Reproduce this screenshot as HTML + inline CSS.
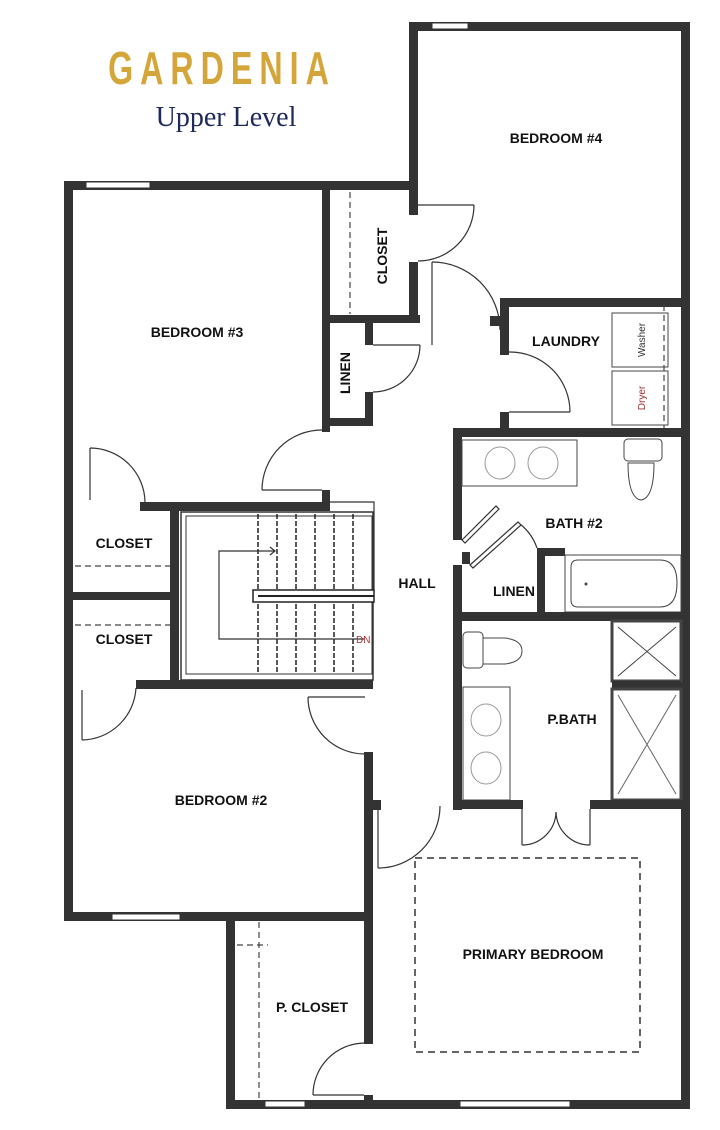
<!DOCTYPE html>
<html><head><meta charset="utf-8"><style>
html,body{margin:0;padding:0;background:#fff;width:720px;height:1130px;overflow:hidden}
svg{display:block}
.w{fill:#333}
.t{font-family:"Liberation Sans",sans-serif;font-weight:bold;font-size:14px;fill:#111}
.l{fill:none;stroke:#333;stroke-width:1.2}
.d{fill:none;stroke:#444;stroke-width:1.2;stroke-dasharray:6 4}
.win{fill:#fff;stroke:#333;stroke-width:1}
</style></head><body>
<svg width="720" height="1130" viewBox="0 0 720 1130">
<text x="222" y="84" text-anchor="middle" font-family="Liberation Sans Narrow,Liberation Sans,sans-serif" font-weight="bold" font-size="46" fill="#d4a63a" letter-spacing="10" transform="translate(222 0) scale(0.7 1) translate(-222 0)">GARDENIA</text>
<text x="226" y="126" text-anchor="middle" font-family="Liberation Serif,serif" font-size="28" fill="#1e2a5c">Upper Level</text>

<!-- exterior walls -->
<rect class="w" x="409" y="22" width="281" height="9"/>
<rect class="win" x="432" y="23" width="36" height="6"/>
<rect class="w" x="409" y="22" width="9" height="193"/>
<rect class="w" x="409" y="262" width="9" height="60"/>
<rect class="w" x="681" y="22" width="9" height="1087"/>
<rect class="w" x="64" y="181" width="353" height="9"/>
<rect class="win" x="86" y="182" width="64" height="6"/>
<rect class="w" x="64" y="181" width="9" height="740"/>
<rect class="w" x="64" y="912" width="309" height="9"/>
<rect class="win" x="112" y="914" width="68" height="6"/>
<rect class="w" x="226" y="912" width="9" height="197"/>
<rect class="w" x="226" y="1100" width="464" height="9"/>
<rect class="win" x="265" y="1101" width="40" height="6"/>
<rect class="win" x="460" y="1101" width="110" height="6"/>

<!-- closet / linen near bedroom 3 -->
<rect class="w" x="322" y="190" width="8" height="242"/>
<rect class="w" x="322" y="490" width="8" height="20"/>
<line class="d" x1="350" y1="192" x2="350" y2="314"/>
<rect class="w" x="322" y="315" width="98" height="8"/>
<rect class="w" x="365" y="323" width="8" height="22"/>
<rect class="w" x="365" y="392" width="8" height="34"/>
<rect class="w" x="322" y="418" width="51" height="8"/>
<path class="l" d="M373 345 H420 M420 345 A47 47 0 0 1 373 392"/>
<path class="l" d="M262 490 H322 M262 490 A60 60 0 0 1 322 430"/>
<path class="l" d="M418 205 H474 M474 205 A56 56 0 0 1 418 261"/>
<path class="l" d="M432 262 V345 M432 262 A68 68 0 0 1 500 330"/>

<!-- bedroom3 bottom / closets -->
<rect class="w" x="64" y="500" width="9" height="10"/>
<rect class="w" x="140" y="502" width="190" height="9"/>
<path class="l" d="M90 448 V500 M90 448 A55 55 0 0 1 145 502"/>
<rect class="w" x="170" y="510" width="9" height="172"/>
<rect class="w" x="73" y="592" width="104" height="8"/>
<line class="d" x1="75" y1="566" x2="170" y2="566"/>
<line class="d" x1="75" y1="625" x2="170" y2="625"/>
<rect class="w" x="136" y="680" width="237" height="9"/>
<path class="l" d="M82 690 V740 M82 740 A55 55 0 0 0 136 688"/>

<!-- stairs -->
<rect x="181" y="512" width="192" height="168" fill="none" stroke="#333" stroke-width="1.5"/>
<rect x="186" y="516" width="186" height="158" fill="none" stroke="#333" stroke-width="1"/>
<path class="l" d="M330 502 H374 V592"/>
<g stroke="#222" stroke-width="1.5" stroke-dasharray="5 2">
<line x1="258" y1="514" x2="258" y2="592"/><line x1="277" y1="514" x2="277" y2="592"/><line x1="296" y1="514" x2="296" y2="592"/><line x1="315" y1="514" x2="315" y2="592"/><line x1="334" y1="514" x2="334" y2="592"/><line x1="353" y1="514" x2="353" y2="592"/>
<line x1="258" y1="604" x2="258" y2="674"/><line x1="277" y1="604" x2="277" y2="674"/><line x1="296" y1="604" x2="296" y2="674"/><line x1="315" y1="604" x2="315" y2="674"/><line x1="334" y1="604" x2="334" y2="674"/><line x1="353" y1="604" x2="353" y2="674"/>
</g>
<rect x="253" y="590" width="121" height="12" fill="#fff" stroke="#222" stroke-width="1.5"/>
<line x1="258" y1="596" x2="374" y2="596" stroke="#222" stroke-width="2"/>
<path class="l" d="M364 639 H219 V551 H275 M270 547 L275 551 L270 555"/>
<text x="356" y="643" font-family="Liberation Sans,sans-serif" font-size="10" fill="#a33">DN</text>

<!-- bedroom2 door / hall right -->
<path class="l" d="M308 697 H365 M308 697 A57 57 0 0 0 365 754"/>
<rect class="w" x="364" y="752" width="9" height="292"/>
<path class="l" d="M313 1095 H364 M313 1095 A52 52 0 0 1 364 1043"/>
<line class="d" x1="259" y1="922" x2="259" y2="1098"/>
<line class="d" x1="237" y1="945" x2="268" y2="945"/>
<rect class="w" x="364" y="1095" width="9" height="10"/>
<rect class="w" x="373" y="800" width="8" height="10"/>
<path class="l" d="M378 810 V868 M378 868 A62 62 0 0 0 440 806"/>

<!-- laundry -->
<rect class="w" x="500" y="298" width="190" height="9"/>
<rect class="w" x="500" y="298" width="9" height="57"/>
<rect class="w" x="500" y="412" width="9" height="20"/>
<rect class="w" x="490" y="316" width="12" height="10"/>
<path class="l" d="M509 412 H570 M509 352 A60 60 0 0 1 570 412"/>
<rect x="612" y="313" width="56" height="54" fill="none" stroke="#444"/>
<rect x="612" y="371" width="56" height="54" fill="none" stroke="#444"/>
<line class="d" x1="664" y1="305" x2="664" y2="428"/>
<text transform="translate(645 340) rotate(-90)" text-anchor="middle" font-family="Liberation Sans,sans-serif" font-size="10" fill="#333">Washer</text>
<text transform="translate(645 398) rotate(-90)" text-anchor="middle" font-family="Liberation Sans,sans-serif" font-size="10" fill="#933">Dryer</text>

<!-- bath 2 -->
<rect class="w" x="453" y="428" width="237" height="9"/>
<rect class="w" x="453" y="428" width="9" height="112"/>
<rect class="w" x="453" y="565" width="9" height="245"/>
<rect x="462" y="440" width="115" height="46" fill="none" stroke="#444"/>
<ellipse cx="500" cy="463" rx="15" ry="16" fill="none" stroke="#999"/>
<ellipse cx="543" cy="463" rx="15" ry="16" fill="none" stroke="#999"/>
<rect x="624" y="439" width="38" height="22" rx="4" fill="none" stroke="#444"/>
<path d="M628 463 Q628 498 641 500 Q654 498 654 463 Z" fill="none" stroke="#444"/>
<path class="l" d="M462 540 L496 506 L499 509 L465 543 Z"/>
<path class="l" d="M470 565 L518 522 L521 525 L473 568 Z M520 524 A52 52 0 0 1 537 548"/>
<rect class="w" x="462" y="552" width="8" height="12"/>
<rect class="w" x="537" y="548" width="8" height="70"/>
<rect class="w" x="545" y="548" width="20" height="8"/>
<rect x="565" y="555" width="116" height="57" fill="none" stroke="#444"/>
<path d="M578 560 H660 Q677 560 677 583 Q677 607 660 607 H578 Q571 607 571 600 V567 Q571 560 578 560 Z" fill="none" stroke="#444"/>
<circle cx="586" cy="584" r="1.5" fill="#444"/>
<rect class="w" x="453" y="612" width="237" height="9"/>

<!-- p.bath -->
<rect x="612" y="621" width="69" height="60" fill="none" stroke="#444" stroke-width="3"/>
<path d="M618 627 L676 676 M676 627 L618 676" stroke="#444" fill="none"/>
<rect class="w" x="612" y="681" width="69" height="8"/>
<rect x="612" y="689" width="69" height="111" fill="none" stroke="#444" stroke-width="3"/>
<path d="M618 695 L676 794 M676 695 L618 794" stroke="#666" fill="none"/>
<rect x="463" y="632" width="20" height="36" rx="4" fill="none" stroke="#444"/>
<path d="M483 638 H505 Q522 640 522 651 Q522 662 505 664 H483 Z" fill="none" stroke="#444"/>
<rect x="463" y="687" width="47" height="113" fill="none" stroke="#444"/>
<ellipse cx="486" cy="720" rx="15" ry="16" fill="none" stroke="#999"/>
<ellipse cx="486" cy="768" rx="15" ry="16" fill="none" stroke="#999"/>
<rect class="w" x="453" y="800" width="70" height="9"/>
<rect class="w" x="590" y="800" width="100" height="9"/>
<path class="l" d="M522 809 V845 M590 809 V845 M522 845 A34 34 0 0 0 556 812 M590 845 A34 34 0 0 1 556 812"/>

<!-- primary dashed bed -->
<rect x="415" y="858" width="225" height="194" fill="none" stroke="#333" stroke-width="1.5" stroke-dasharray="7 5"/>

<!-- labels -->
<text class="t" x="556" y="143" text-anchor="middle" font-size="13">BEDROOM #4</text>
<text class="t" x="197" y="337" text-anchor="middle" font-size="13">BEDROOM #3</text>
<text class="t" transform="translate(387 256) rotate(-90)" text-anchor="middle">CLOSET</text>
<text class="t" transform="translate(350 373) rotate(-90)" text-anchor="middle">LINEN</text>
<text class="t" x="566" y="346" text-anchor="middle">LAUNDRY</text>
<text class="t" x="124" y="548" text-anchor="middle">CLOSET</text>
<text class="t" x="124" y="644" text-anchor="middle">CLOSET</text>
<text class="t" x="417" y="588" text-anchor="middle">HALL</text>
<text class="t" x="574" y="528" text-anchor="middle">BATH #2</text>
<text class="t" x="514" y="596" text-anchor="middle">LINEN</text>
<text class="t" x="572" y="724" text-anchor="middle">P.BATH</text>
<text class="t" x="221" y="805" text-anchor="middle">BEDROOM #2</text>
<text class="t" x="533" y="959" text-anchor="middle">PRIMARY BEDROOM</text>
<text class="t" x="312" y="1012" text-anchor="middle">P. CLOSET</text>
</svg>
</body></html>
